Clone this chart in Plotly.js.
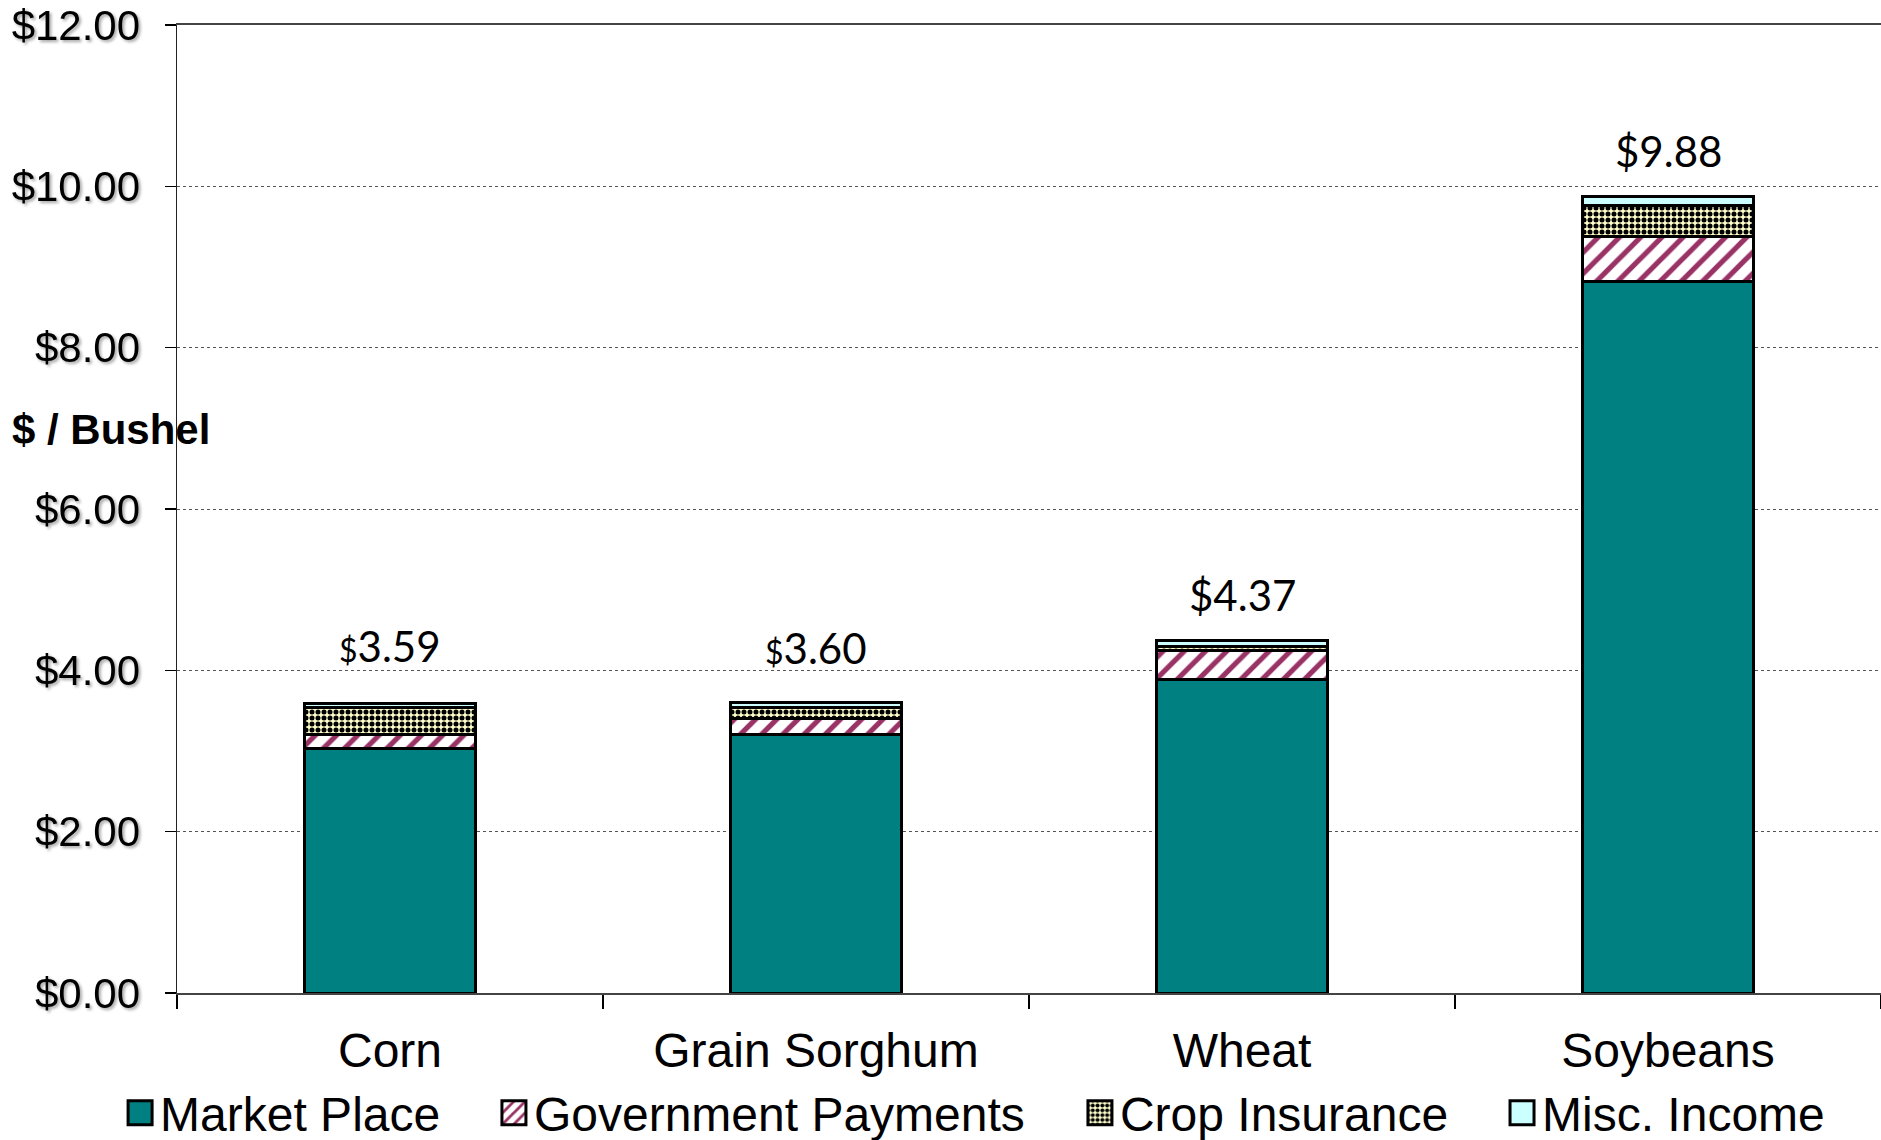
<!DOCTYPE html>
<html>
<head>
<meta charset="utf-8">
<script src="https://cdn.plot.ly/plotly-3.0.1.min.js"></script>
<style>
  html, body { margin: 0; padding: 0; background: #fff; }
  #chart { width: 1881px; height: 1140px; }
  .ytick text { filter: drop-shadow(2px 2px 1.5px rgba(0,0,0,0.35)); }
</style>
</head>
<body>
<div id="chart"></div>
<script>
// ---- Data ----
const categories = ['Corn', 'Grain Sorghum', 'Wheat', 'Soybeans'];
const marketPlace = [3.03, 3.20, 3.89, 8.82];
const governmentPayments = [0.18, 0.20, 0.36, 0.56];
const cropInsurance = [0.33, 0.14, 0.05, 0.38];
const miscIncome = [0.05, 0.06, 0.07, 0.12];
const totals = [3.59, 3.60, 4.37, 9.88];
const yTickVals = [0, 2, 4, 6, 8, 10, 12];
const yTickText = ['$0.00', '$2.00', '$4.00', '$6.00', '$8.00', '$10.00', '$12.00'];
const seriesNames = ['Market Place', 'Government Payments', 'Crop Insurance', 'Misc. Income'];
const yAxisLabel = '$ / Bushel';

// ---- Styles ----
const outline = { color: '#000000', width: 3 };
const legendIds = ['legend', 'legend2', 'legend3', 'legend4'];
const legendX = [-0.0334, 0.1860, 0.5299, 0.7776];
const traces = [
  { name: seriesNames[0], y: marketPlace,
    marker: { color: '#008080', line: outline } },
  { name: seriesNames[1], y: governmentPayments,
    marker: { color: '#ffffff', line: outline,
      pattern: { shape: '/', fgcolor: '#993366', bgcolor: '#ffffff', size: 15, solidity: 0.35 } } },
  { name: seriesNames[2], y: cropInsurance,
    marker: { color: '#ffffcc', line: outline,
      pattern: { shape: '.', fgcolor: '#000000', bgcolor: '#ffffcc', size: 6, solidity: 0.55 } } },
  { name: seriesNames[3], y: miscIncome,
    marker: { color: '#ccffff', line: outline } }
].map((t, i) => Object.assign({ type: 'bar', x: categories, hoverinfo: 'skip', legend: legendIds[i] }, t));

const labelShift = [30, 28, 18, 18];
const smallDollar = [true, true, false, false];
const annotations = totals.map((v, i) => ({
  x: categories[i], y: v, xref: 'x', yref: 'y',
  text: (smallDollar[i] ? '<span style="font-size:32px">$</span>' : '$') + v.toFixed(2),
  showarrow: false, yanchor: 'bottom', yshift: labelShift[i],
  font: { family: 'Lato, "Open Sans", sans-serif', size: 42, color: '#000' }
}));
annotations.push({
  x: -0.098, xref: 'paper', xanchor: 'left',
  y: 6.98, yref: 'y', yanchor: 'middle',
  text: '<b>' + yAxisLabel + '</b>', showarrow: false,
  font: { family: '"Liberation Sans", Arial, sans-serif', size: 42, color: '#000' }
});

const layout = {
  width: 1881, height: 1140,
  margin: { l: 177, r: 0, t: 25, b: 147, pad: 0, autoexpand: false },
  barmode: 'stack', bargap: 0.6,
  paper_bgcolor: '#ffffff', plot_bgcolor: '#ffffff',
  font: { family: '"Liberation Sans", Arial, sans-serif', color: '#000' },
  showlegend: true,
  xaxis: {
    type: 'category', tickson: 'boundaries', ticks: 'outside', ticklen: 14, tickwidth: 1.5,
    tickcolor: '#000', showline: true, linecolor: '#444', linewidth: 2, mirror: true,
    showgrid: false, tickfont: { size: 48 }, ticklabelstandoff: 14
  },
  yaxis: {
    range: [0, 12], tickvals: yTickVals, ticktext: yTickText,
    ticks: 'outside', ticklen: 11, tickwidth: 1.5, tickcolor: '#000',
    showline: true, linecolor: '#222', linewidth: 1.5,
    showgrid: true, gridcolor: '#555', gridwidth: 1, griddash: 'dot',
    zeroline: false, tickfont: { size: 42 }, ticklabelstandoff: 16
  },
  annotations: annotations
};
legendIds.forEach((id, i) => {
  layout[id] = {
    orientation: 'h', x: legendX[i], xanchor: 'left', y: -0.124, yanchor: 'middle',
    font: { size: 48, color: '#000' }, bgcolor: 'rgba(0,0,0,0)'
  };
});

Plotly.newPlot('chart', traces, layout, { staticPlot: true, displayModeBar: false }).then(() => {
  document.querySelectorAll('.legendpoints path').forEach(p => {
    p.setAttribute('d', 'M12,12H-12V-12H12Z');
  });
});
</script>
</body>
</html>
